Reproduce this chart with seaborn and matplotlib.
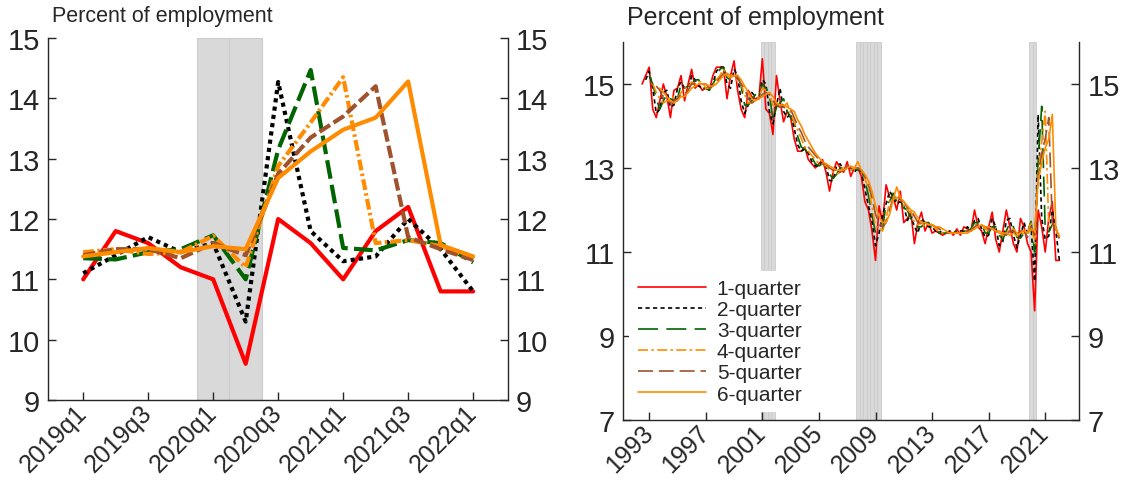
import pandas as pd
import matplotlib
import matplotlib.pyplot as plt
import seaborn as sns

matplotlib.use('Agg')

SERIES = ['1-quarter', '2-quarter', '3-quarter', '4-quarter', '5-quarter', '6-quarter']
COLORS = {
    '1-quarter': '#ff0000',
    '2-quarter': '#000000',
    '3-quarter': '#006400',
    '4-quarter': '#ff8c00',
    '5-quarter': '#a0522d',
    '6-quarter': '#ff8c00',
}

# 2019q1 - 2022q1 (left panel, also the tail of the long series)
recent_quarters = ['2019q1', '2019q2', '2019q3', '2019q4', '2020q1', '2020q2', '2020q3',
                   '2020q4', '2021q1', '2021q2', '2021q3', '2021q4', '2022q1']
recent_1q = [11.0, 11.8, 11.6, 11.2, 11.0, 9.6, 12.0, 11.6, 11.0, 11.8, 12.2, 10.8, 10.8]
recent_2q = [11.1, 11.4, 11.7, 11.45, 11.6, 10.3, 14.27, 11.8, 11.3, 11.38, 12.0, 11.5, 10.8]
recent_3q = [11.35, 11.33, 11.45, 11.5, 11.73, 11.0, 13.15, 14.47, 11.52, 11.48, 11.65, 11.6, 11.28]
recent_4q = [11.45, 11.5, 11.42, 11.45, 11.72, 11.2, 12.88, 13.6, 14.35, 11.6, 11.65, 11.55, 11.35]
recent_5q = [11.4, 11.5, 11.5, 11.35, 11.6, 11.4, 12.75, 13.35, 13.7, 14.2, 11.7, 11.5, 11.32]
recent_6q = [11.38, 11.45, 11.52, 11.45, 11.55, 11.5, 12.68, 13.12, 13.48, 13.68, 14.28, 11.57, 11.38]
recent_shaded = ['2020q1', '2020q2']

# 1992q3 - 2018q4 (right panel history); n-quarter series start n-1 quarters later
hist_1q = [15.0, 15.2, 15.4, 14.4, 14.2, 14.6, 15.0, 14.7, 14.2, 14.85,
           14.9, 15.2, 14.6, 15.0, 15.35, 14.9, 15.0, 14.85, 14.9, 14.85,
           15.2, 15.4, 15.4, 15.4, 14.65, 15.2, 15.55, 14.85, 14.4, 14.2,
           14.85, 14.7, 14.65, 14.65, 15.6, 14.4, 14.3, 13.8, 15.2, 14.6,
           14.1, 14.35, 14.2, 13.7, 13.4, 13.4, 13.5, 13.2, 13.1, 13.0,
           13.1, 13.2, 12.9, 12.45, 12.9, 13.15, 13.0, 12.9, 13.15, 12.8,
           13.0, 13.0, 12.8, 12.2, 12.0, 11.5, 10.8, 12.1, 11.7, 12.6,
           12.3, 12.3, 12.0, 12.45, 11.7, 11.8, 11.95, 11.2, 11.7, 11.95,
           11.5, 11.7, 11.45, 11.5, 11.45, 11.4, 11.45, 11.5, 11.4, 11.55,
           11.4, 11.6, 11.55, 11.5, 12.0, 11.6, 11.5, 11.2, 11.6, 11.95,
           11.3, 11.0, 11.5, 12.0, 11.6, 11.2]
hist_2q = [15.1, 15.3, 14.9, 14.3, 14.4, 14.8, 14.85, 14.45, 14.5,
           14.9, 15.05, 14.9, 14.8, 15.2, 15.1, 14.95, 14.9, 14.9, 14.9,
           15.0, 15.3, 15.4, 15.4, 15.0, 14.9, 15.35, 15.2, 14.6, 14.3,
           14.5, 14.8, 14.7, 14.65, 15.1, 15.0, 14.35, 14.05, 14.5, 14.9,
           14.35, 14.2, 14.3, 13.95, 13.55, 13.4, 13.45, 13.35, 13.15, 13.05,
           13.05, 13.15, 13.05, 12.7, 12.7, 13.05, 13.1, 12.95, 13.0, 13.0,
           12.9, 13.0, 12.9, 12.5, 12.1, 11.75, 11.15, 11.45, 11.9, 12.15,
           12.45, 12.3, 12.15, 12.2, 12.1, 11.75, 11.9, 11.6, 11.45, 11.8,
           11.7, 11.6, 11.6, 11.5, 11.5, 11.45, 11.45, 11.5, 11.45, 11.5,
           11.5, 11.5, 11.6, 11.5, 11.75, 11.8, 11.55, 11.35, 11.4, 11.8,
           11.6, 11.15, 11.25, 11.75, 11.8, 11.4]
hist_3q = [15.2, 15.0, 14.65, 14.4, 14.6, 14.75, 14.65, 14.6,
           14.65, 15.0, 14.9, 14.95, 15.0, 15.1, 15.1, 14.9, 14.9, 14.85,
           15.0, 15.15, 15.35, 15.4, 15.15, 15.1, 15.15, 15.2, 14.95, 14.5,
           14.5, 14.6, 14.75, 14.65, 15.0, 14.9, 14.75, 14.15, 14.45, 14.55,
           14.65, 14.35, 14.2, 14.1, 13.75, 13.5, 13.45, 13.35, 13.25, 13.1,
           13.05, 13.1, 13.05, 12.85, 12.75, 12.85, 13.0, 13.0, 13.0, 12.95,
           13.0, 12.95, 12.95, 12.7, 12.35, 11.9, 11.45, 11.45, 11.55, 12.15,
           12.2, 12.4, 12.2, 12.25, 12.05, 12.0, 11.8, 11.65, 11.6, 11.6,
           11.7, 11.7, 11.55, 11.55, 11.45, 11.45, 11.45, 11.45, 11.45, 11.5,
           11.45, 11.5, 11.5, 11.55, 11.7, 11.7, 11.7, 11.45, 11.45, 11.6,
           11.6, 11.4, 11.3, 11.5, 11.7, 11.6]
hist_4q = [15.0, 14.8, 14.65, 14.55, 14.6, 14.6, 14.7,
           14.65, 14.8, 14.9, 14.9, 15.05, 15.0, 15.05, 15.05, 14.9, 14.9,
           14.95, 15.1, 15.2, 15.35, 15.2, 15.15, 15.2, 15.05, 15.0, 14.75,
           14.55, 14.55, 14.6, 14.7, 14.9, 14.85, 14.75, 14.5, 14.45, 14.45,
           14.45, 14.55, 14.3, 14.1, 13.9, 13.7, 13.5, 13.4, 13.3, 13.2,
           13.1, 13.1, 13.05, 12.95, 12.9, 12.85, 12.9, 13.05, 13.05, 12.95,
           13.0, 13.0, 12.9, 12.75, 12.5, 12.1, 11.6, 11.6, 11.5, 11.8,
           12.2, 12.25, 12.3, 12.25, 12.1, 12.0, 11.95, 11.7, 11.65, 11.7,
           11.6, 11.7, 11.65, 11.55, 11.5, 11.45, 11.45, 11.45, 11.45, 11.45,
           11.45, 11.5, 11.5, 11.5, 11.65, 11.65, 11.65, 11.55, 11.5, 11.55,
           11.5, 11.45, 11.4, 11.45, 11.55, 11.55]
hist_5q = [14.95, 14.85, 14.65, 14.6, 14.55, 14.6,
           14.65, 14.75, 14.75, 14.85, 15.0, 15.0, 15.0, 15.0, 15.0, 14.9,
           14.95, 15.05, 15.15, 15.25, 15.25, 15.2, 15.2, 15.15, 15.0, 14.9,
           14.65, 14.55, 14.6, 14.65, 14.75, 14.8, 14.75, 14.6, 14.5, 14.45,
           14.45, 14.4, 14.4, 14.2, 14.0, 13.85, 13.65, 13.5, 13.4, 13.3,
           13.2, 13.1, 13.1, 13.0, 12.95, 12.9, 12.9, 12.95, 13.05, 13.0,
           13.0, 13.0, 12.95, 12.8, 12.6, 12.3, 11.9, 11.7, 11.6, 11.7,
           12.0, 12.3, 12.3, 12.25, 12.2, 12.05, 12.0, 11.85, 11.7, 11.7,
           11.65, 11.65, 11.65, 11.6, 11.55, 11.5, 11.45, 11.45, 11.45, 11.45,
           11.45, 11.45, 11.5, 11.5, 11.6, 11.65, 11.65, 11.6, 11.55, 11.55,
           11.5, 11.5, 11.45, 11.4, 11.5, 11.5]
hist_6q = [14.9, 14.8, 14.7, 14.6, 14.55,
           14.6, 14.7, 14.7, 14.8, 14.9, 14.95, 15.0, 15.0, 15.0, 14.95,
           14.95, 15.0, 15.1, 15.2, 15.25, 15.2, 15.2, 15.2, 15.1, 14.95,
           14.8, 14.65, 14.6, 14.65, 14.7, 14.75, 14.8, 14.7, 14.55, 14.5,
           14.5, 14.45, 14.4, 14.35, 14.15, 14.0, 13.8, 13.65, 13.5, 13.35,
           13.25, 13.15, 13.1, 13.05, 13.0, 12.95, 12.95, 12.95, 13.0, 13.05,
           13.0, 13.15, 12.95, 12.85, 12.7, 12.45, 12.1, 11.85, 11.7, 11.7,
           11.9, 12.25, 12.55, 12.3, 12.2, 12.1, 12.0, 11.95, 11.8, 11.7,
           11.7, 11.65, 11.65, 11.6, 11.6, 11.55, 11.5, 11.45, 11.45, 11.45,
           11.45, 11.45, 11.45, 11.5, 11.55, 11.6, 11.65, 11.6, 11.6, 11.55,
           11.5, 11.5, 11.45, 11.45, 11.4, 11.45]
first_quarter = 1992.5  # 1992q3
recession_quarters = ['2001q1', '2001q2', '2001q3', '2001q4',
                      '2007q4', '2008q1', '2008q2', '2008q3', '2008q4', '2009q1', '2009q2',
                      '2020q1', '2020q2']
year_ticks = [1993, 1997, 2001, 2005, 2009, 2013, 2017, 2021]

SHADE = '#d9d9d9'
SHADE_EDGE = '#cbcbcb'
SPINE = '#262626'
YTICK_SIZE = 21
XTICK_SIZE = 18


def quarter_to_year(label):
    return int(label[:4]) + (int(label[-1]) - 1) / 4


def long_frame(series_values, x_of_index):
    rows = []
    for name, values in series_values.items():
        offset = SERIES.index(name)
        for i, v in enumerate(values):
            rows.append({'x': x_of_index(i, offset), 'value': v, 'series': name})
    return pd.DataFrame(rows)


def style_axis(ax, yticks):
    for side in ['left', 'right', 'bottom']:
        ax.spines[side].set_visible(True)
        ax.spines[side].set_color(SPINE)
        ax.spines[side].set_linewidth(1.0)
    ax.spines['top'].set_visible(False)
    ax.set_yticks(yticks)
    ax.set_yticklabels([str(t) for t in yticks])
    ax.tick_params(axis='both', direction='in', length=6, width=1, color=SPINE)
    ax.tick_params(axis='y', left=True, right=True, labelleft=True, labelright=True,
                   labelsize=YTICK_SIZE, pad=6)
    ax.tick_params(axis='x', bottom=True, top=False, labelsize=XTICK_SIZE, pad=6)
    for lab in ax.get_xticklabels():
        lab.set_rotation(45)
        lab.set_ha('right')
        lab.set_va('center')
        lab.set_rotation_mode('anchor')
    ax.set_xlabel('')
    ax.set_ylabel('')


sns.set_style('white')
plt.rcParams['font.family'] = ['Liberation Sans', 'DejaVu Sans']

fig = plt.figure(figsize=(11.24, 4.81), dpi=100)
ax1 = fig.add_axes([0.0431, 0.1663, 0.4085, 0.7526])
ax2 = fig.add_axes([0.5543, 0.1247, 0.4057, 0.7859])

# left panel: recent quarters
recent = {'1-quarter': recent_1q, '2-quarter': recent_2q, '3-quarter': recent_3q,
          '4-quarter': recent_4q, '5-quarter': recent_5q, '6-quarter': recent_6q}
df_recent = long_frame(recent, lambda i, off: i)
for q in recent_shaded:
    i = recent_quarters.index(q)
    ax1.axvspan(i - 0.5, i + 0.5, facecolor=SHADE, edgecolor=SHADE_EDGE, lw=0.8, zorder=0)
dashes_left = {'1-quarter': '', '2-quarter': (1, 1), '3-quarter': (4.5, 1.5),
               '4-quarter': (2.6, 0.8, 0.6, 0.8), '5-quarter': (3, 1), '6-quarter': ''}
sns.lineplot(data=df_recent, x='x', y='value', hue='series', style='series',
             hue_order=SERIES, style_order=SERIES, palette=COLORS, dashes=dashes_left,
             linewidth=3.0, legend=False, ax=ax1, zorder=3)
ax1.set_xlim(-1.07, 13.06)
ax1.set_ylim(9, 15)
ax1.set_xticks(range(0, len(recent_quarters), 2))
ax1.set_xticklabels(recent_quarters[::2])
style_axis(ax1, [9, 10, 11, 12, 13, 14, 15])
fig.text(0.046, 0.965, 'Percent of employment', fontsize=15.5, va='center', ha='left')

# right panel: full history
full = {'1-quarter': hist_1q + recent_1q, '2-quarter': hist_2q + recent_2q,
        '3-quarter': hist_3q + recent_3q, '4-quarter': hist_4q + recent_4q,
        '5-quarter': hist_5q + recent_5q, '6-quarter': hist_6q + recent_6q}
df_full = long_frame(full, lambda i, off: first_quarter + (i + off) / 4)
for q in recession_quarters:
    t = quarter_to_year(q)
    ax2.axvspan(t - 0.125, t + 0.125, facecolor=SHADE, edgecolor=SHADE_EDGE, lw=0.6, zorder=0)
dashes_right = {'1-quarter': '', '2-quarter': (2.5, 2), '3-quarter': (12, 5),
                '4-quarter': (6, 2, 1.5, 2), '5-quarter': (9, 3.5), '6-quarter': ''}
sns.lineplot(data=df_full, x='x', y='value', hue='series', style='series',
             hue_order=SERIES, style_order=SERIES, palette=COLORS, dashes=dashes_right,
             linewidth=1.2, legend=False, ax=ax2, zorder=3)
ax2.set_xlim(1991.15, 2023.39)
ax2.set_ylim(7, 16)
ax2.set_xticks(year_ticks)
ax2.set_xticklabels([str(y) for y in year_ticks])
style_axis(ax2, [7, 9, 11, 13, 15])
fig.text(0.558, 0.962, 'Percent of employment', fontsize=18, va='center', ha='left')

handles = ax2.get_lines()[:6]
leg = ax2.legend(handles, SERIES, loc='lower left', bbox_to_anchor=(0.0, 0.005),
                 fontsize=15, frameon=True, fancybox=False, framealpha=1.0,
                 facecolor='white', edgecolor='none', handlelength=3.3,
                 handletextpad=0.5, labelspacing=0.1, borderpad=0.4, borderaxespad=0.3)
leg.set_zorder(5)

fig.savefig('out.png', dpi=100)
plt.close(fig)
